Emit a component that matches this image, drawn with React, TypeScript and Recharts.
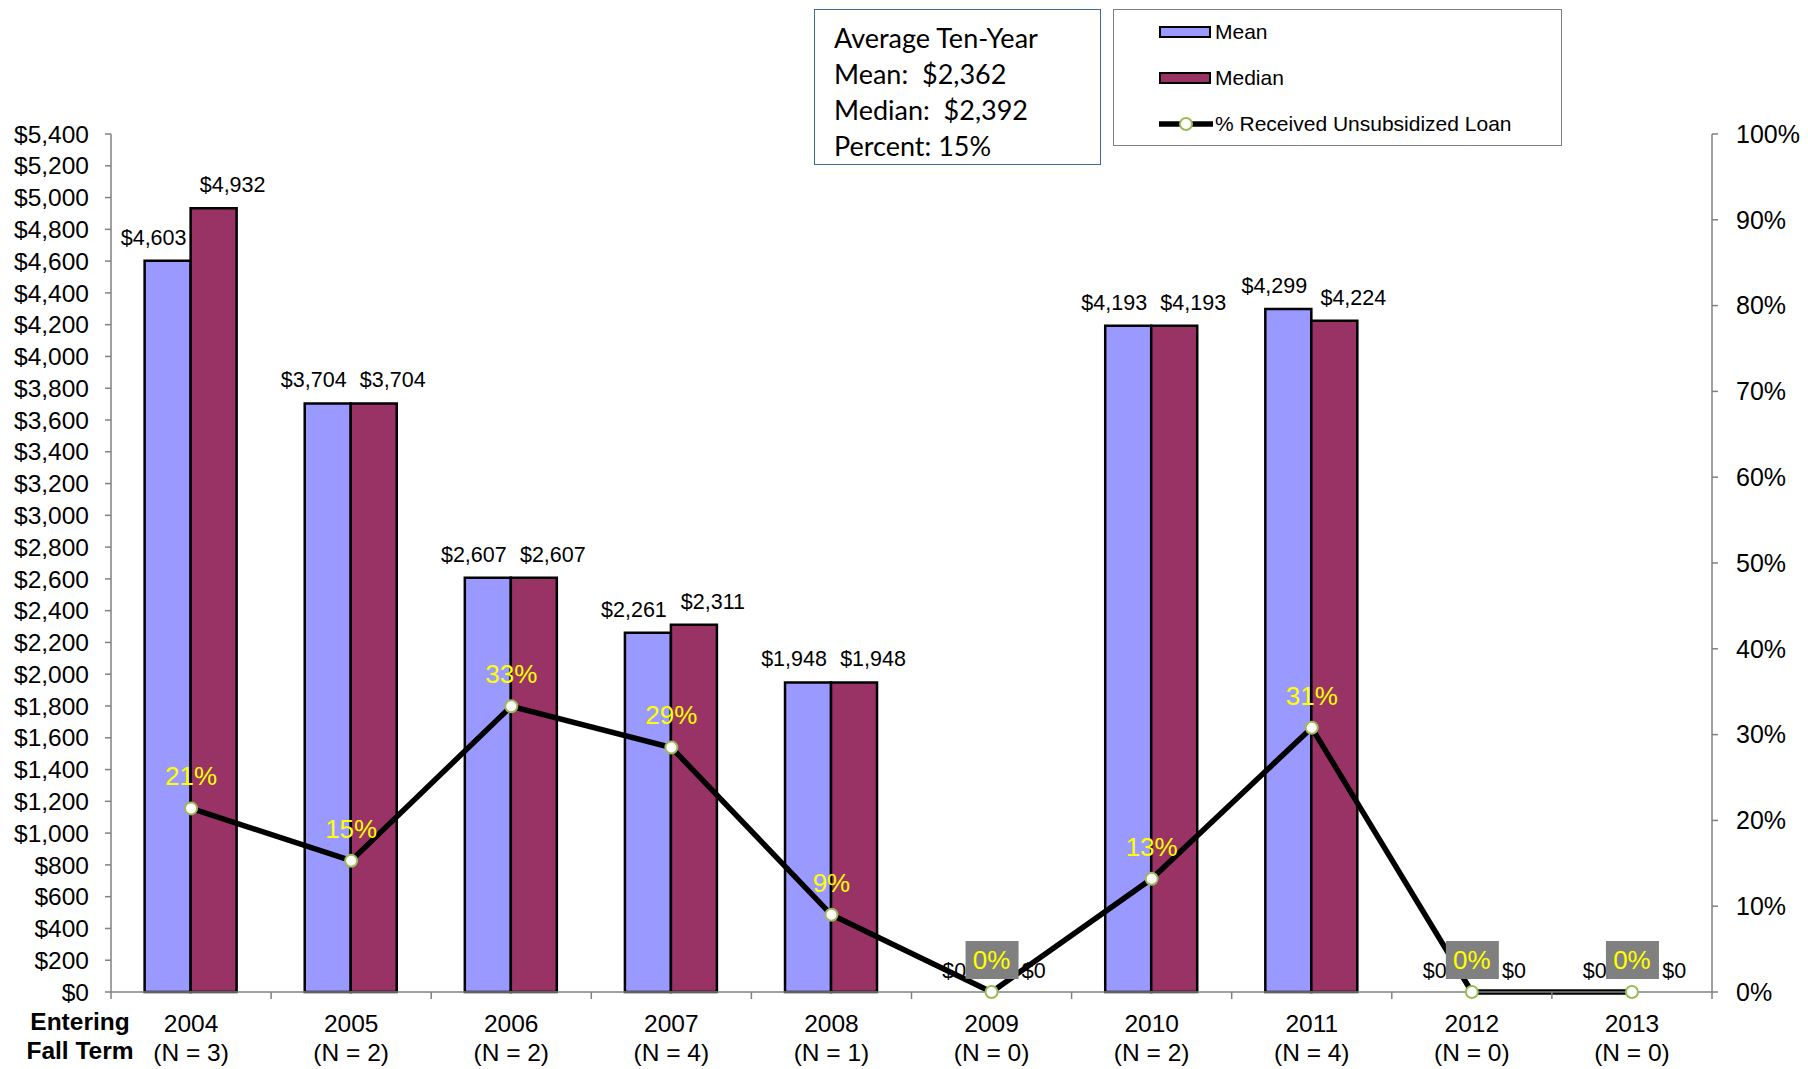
import React from 'react'
import { ComposedChart, Bar, Line, XAxis, YAxis, LabelList } from 'recharts'

const years = ['2004', '2005', '2006', '2007', '2008', '2009', '2010', '2011', '2012', '2013']
const counts = [3, 2, 2, 4, 1, 0, 2, 4, 0, 0]
const meanLoan = [4603, 3704, 2607, 2261, 1948, 0, 4193, 4299, 0, 0]
const medianLoan = [4932, 3704, 2607, 2311, 1948, 0, 4193, 4224, 0, 0]
const pctUnsub = [21.4, 15.3, 33.3, 28.5, 9.0, 0, 13.2, 30.8, 0, 0]

const dollarTicks = [
  0, 200, 400, 600, 800, 1000, 1200, 1400, 1600, 1800, 2000, 2200, 2400, 2600,
  2800, 3000, 3200, 3400, 3600, 3800, 4000, 4200, 4400, 4600, 4800, 5000, 5200, 5400,
]
const pctTicks = [0, 10, 20, 30, 40, 50, 60, 70, 80, 90, 100]

const summaryLines = ['Average Ten-Year', 'Mean:  $2,362', 'Median:  $2,392', 'Percent: 15%']

const W = 1808
const H = 1069
const LEFT_W = 111
const RIGHT_W = 96
const TOP = 134
const X_H = 77
const BAND = (W - LEFT_W - RIGHT_W) / years.length
const CAT_GAP = 0.21
const BAR_W = (BAND * (1 - 2 * CAT_GAP)) / 2

const FONT = '"Liberation Sans", Arial, sans-serif'
const MEAN_COLOR = '#9999ff'
const MEDIAN_COLOR = '#993366'
const AXIS_GRAY = '#808080'
const DOT_GREEN = '#9bbb59'

const data = years.map((y, i) => ({
  year: y,
  n: counts[i],
  mean: meanLoan[i],
  median: medianLoan[i],
  pct: pctUnsub[i],
}))

const money = (v: number) => `$${v.toLocaleString('en-US')}`

function YearTick(props: any) {
  const { x, y, payload } = props
  const i = years.indexOf(String(payload.value))
  const half = BAND / 2
  return (
    <g>
      <line x1={x - half} x2={x - half} y1={y} y2={y + 7} stroke={AXIS_GRAY} strokeWidth={1.5} />
      {i === years.length - 1 && (
        <line x1={x + half} x2={x + half} y1={y} y2={y + 7} stroke={AXIS_GRAY} strokeWidth={1.5} />
      )}
      <text x={x} y={y + 31} textAnchor="middle" dominantBaseline="central" fontSize={24.5} fontFamily={FONT} fill="#000">
        {payload.value}
      </text>
      <text x={x} y={y + 60} textAnchor="middle" dominantBaseline="central" fontSize={24.5} fontFamily={FONT} fill="#000">
        {`(N = ${counts[i]})`}
      </text>
    </g>
  )
}

// labels above bars (non-zero bars)
const barLabel = (dx: number) => (props: any) => {
  const { x, y, width, value } = props
  if (!Number(value)) return null
  const cx = Number(x) + Number(width) / 2 + dx
  return (
    <text x={cx} y={Number(y) - 23} textAnchor="middle" dominantBaseline="central" fontSize={21.5} fontFamily={FONT} fill="#000">
      {money(Number(value))}
    </text>
  )
}

// $0 labels, placed from the category centre since empty bars draw nothing
const zeroLabel = (dx: number) => (props: any) => {
  const { x, y, value } = props
  if (Number(value) !== 0) return null
  return (
    <text x={Number(x) + dx} y={Number(y) - 21} textAnchor="middle" dominantBaseline="central" fontSize={21.5} fontFamily={FONT} fill="#000">
      {money(0)}
    </text>
  )
}

function PctLabel(props: any) {
  const { x, y, value } = props
  const cy = Number(y) - 32
  const txt = `${Math.round(Number(value))}%`
  return (
    <g>
      {Number(value) === 0 && <rect x={x - 26} y={cy - 19} width={53} height={38} fill={AXIS_GRAY} />}
      <text x={x} y={cy} textAnchor="middle" dominantBaseline="central" fontSize={26} fontFamily={FONT} fill="#ffff00">
        {txt}
      </text>
    </g>
  )
}

export default function App() {
  return (
    <div style={{ position: 'absolute', left: 0, top: 0, width: W, height: H, background: '#fff' }}>
      <ComposedChart width={W} height={H} data={data} margin={{ top: TOP, right: 0, bottom: 0, left: 0 }} barGap={0} barCategoryGap={`${CAT_GAP * 100}%`}>
        <XAxis
          dataKey="year"
          height={X_H}
          interval={0}
          tickSize={0}
          tickMargin={0}
          tickLine={false}
          axisLine={{ stroke: AXIS_GRAY, strokeWidth: 1.5 }}
          tick={<YearTick />}
        />
        <YAxis
          yAxisId="left"
          orientation="left"
          width={LEFT_W}
          domain={[0, 5400]}
          ticks={dollarTicks}
          interval={0}
          tickSize={6}
          tickMargin={16}
          axisLine={{ stroke: AXIS_GRAY, strokeWidth: 1.5 }}
          tickLine={{ stroke: AXIS_GRAY, strokeWidth: 1.5 }}
          tick={{ fontSize: 24.5, fill: '#000', fontFamily: FONT }}
          tickFormatter={(v: number) => money(v)}
        />
        <YAxis
          yAxisId="right"
          orientation="right"
          width={RIGHT_W}
          domain={[0, 100]}
          ticks={pctTicks}
          interval={0}
          tickSize={6}
          tickMargin={18}
          axisLine={{ stroke: AXIS_GRAY, strokeWidth: 1.5 }}
          tickLine={{ stroke: AXIS_GRAY, strokeWidth: 1.5 }}
          tick={{ fontSize: 25, fill: '#000', fontFamily: FONT }}
          tickFormatter={(v: number) => `${v}%`}
        />
        <Bar yAxisId="left" dataKey="mean" fill={MEAN_COLOR} stroke="#000" strokeWidth={2.5} isAnimationActive={false}>
          <LabelList dataKey="mean" content={barLabel(-14)} />
        </Bar>
        <Bar yAxisId="left" dataKey="median" fill={MEDIAN_COLOR} stroke="#000" strokeWidth={2.5} isAnimationActive={false}>
          <LabelList dataKey="median" content={barLabel(19)} />
        </Bar>
        <Line yAxisId="left" dataKey="mean" stroke="none" dot={false} activeDot={false} legendType="none" isAnimationActive={false}>
          <LabelList dataKey="mean" content={zeroLabel(-BAR_W / 2 - 14)} />
        </Line>
        <Line yAxisId="left" dataKey="median" stroke="none" dot={false} activeDot={false} legendType="none" isAnimationActive={false}>
          <LabelList dataKey="median" content={zeroLabel(BAR_W / 2 + 19)} />
        </Line>
        <Line
          yAxisId="right"
          type="linear"
          dataKey="pct"
          stroke="#000"
          strokeWidth={5.5}
          dot={{ r: 6, fill: '#fff', stroke: DOT_GREEN, strokeWidth: 2 }}
          activeDot={false}
          isAnimationActive={false}
        >
          <LabelList dataKey="pct" content={PctLabel} />
        </Line>
      </ComposedChart>

      {/* axis caption */}
      <div
        style={{
          position: 'absolute', left: 10, top: 1007, width: 140, textAlign: 'center',
          fontFamily: FONT, fontWeight: 700, fontSize: 24.5, lineHeight: '29px', color: '#000',
        }}
      >
        Entering<br />Fall Term
      </div>

      {/* summary box */}
      <div
        style={{
          position: 'absolute', left: 814, top: 9, width: 287, height: 156, boxSizing: 'border-box',
          border: '1.5px solid #41689f', padding: '10px 0 0 19px',
          fontFamily: 'Lato, "Open Sans", sans-serif', fontSize: 27, lineHeight: '36px', color: '#000',
          whiteSpace: 'pre',
        }}
      >
        {summaryLines.map(s => <div key={s}>{s}</div>)}
      </div>

      {/* legend */}
      <div
        style={{
          position: 'absolute', left: 1113, top: 9, width: 449, height: 137, boxSizing: 'border-box',
          border: `1.5px solid ${AXIS_GRAY}`, fontFamily: FONT, fontSize: 21, color: '#000',
        }}
      >
        {[
          { label: 'Mean', color: MEAN_COLOR, top: 22 },
          { label: 'Median', color: MEDIAN_COLOR, top: 68 },
        ].map(it => (
          <div key={it.label}>
            <div
              style={{
                position: 'absolute', left: 45, top: it.top - 6, width: 52, height: 12, boxSizing: 'border-box',
                background: it.color, border: '2.5px solid #000',
              }}
            />
            <div style={{ position: 'absolute', left: 101, top: it.top - 12, lineHeight: '24px' }}>{it.label}</div>
          </div>
        ))}
        <svg style={{ position: 'absolute', left: 45, top: 104 }} width={54} height={20}>
          <line x1={0} x2={54} y1={10} y2={10} stroke="#000" strokeWidth={5.5} />
          <circle cx={27} cy={10} r={6} fill="#fff" stroke={DOT_GREEN} strokeWidth={2} />
        </svg>
        <div style={{ position: 'absolute', left: 101, top: 102, lineHeight: '24px' }}>% Received Unsubsidized Loan</div>
      </div>
    </div>
  )
}
